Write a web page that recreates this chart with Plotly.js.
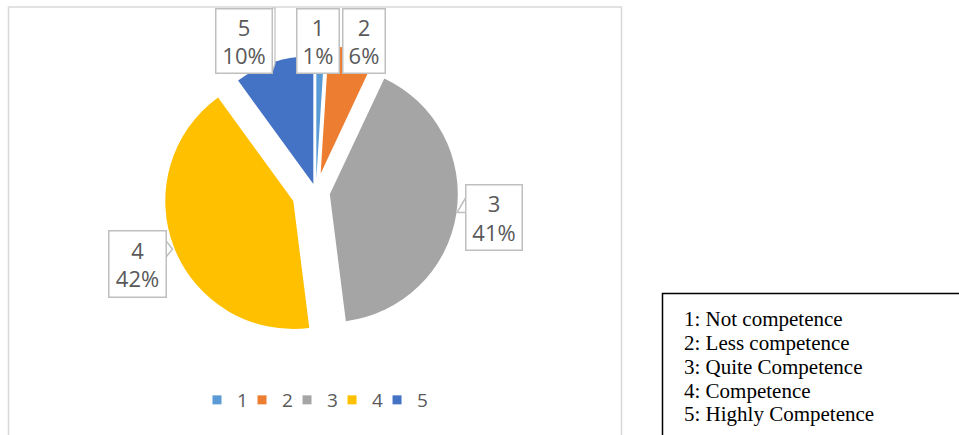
<!DOCTYPE html>
<html><head><meta charset="utf-8">
<script src="https://cdn.plot.ly/plotly-3.0.1.min.js"></script>
<style>html,body{margin:0;padding:0;background:#fff;} #chart{width:959px;height:435px;}</style>
</head><body><div id="chart"></div>
<script>
// ---- data ----
const categories = ['1', '2', '3', '4', '5'];
const percents = [1, 6, 41, 42, 10];
const descriptions = ['1: Not competence', '2: Less competence', '3: Quite Competence', '4: Competence', '5: Highly Competence'];

// ---- styles ----
const colors = ['#5B9BD5', '#ED7D31', '#A5A5A5', '#FFC000', '#4472C4'];
const pulls = [0.10, 0.15, 0.11, 0.19, 0.065];

const W = 959, H = 435;
const fx = x => x / W, fy = y => 1 - y / H;

// pie geometry (pixels)
const pcx = 315.9, pcy = 192, pr = 128;
const maxPull = Math.max(...pulls);
const box = 2 * pr * (1 + maxPull);
const domX = [fx(pcx - box / 2), fx(pcx + box / 2)];
const domY = [fy(pcy + box / 2), fy(pcy - box / 2)];

// callout boxes (pixel centres / sizes), one per category
const labelBoxes = [
  {x: 317.5, y: 41, w: 44, h: 66},
  {x: 364, y: 41, w: 44, h: 66},
  {x: 494, y: 217.5, w: 58, h: 67},
  {x: 137, y: 264, w: 59, h: 68},
  {x: 244, y: 41, w: 58, h: 66}
];

const traces = [{
  type: 'pie',
  labels: categories,
  values: percents,
  sort: false,
  direction: 'clockwise',
  rotation: 0,
  pull: pulls,
  marker: {colors: colors, line: {width: 0}},
  textinfo: 'none',
  hoverinfo: 'label+percent',
  showlegend: false,
  domain: {x: domX, y: domY}
}];
categories.forEach((c, i) => traces.push({
  type: 'scatter', x: [null], y: [null], mode: 'markers', name: c,
  marker: {symbol: 'square', size: 9, color: colors[i]},
  legendwidth: i === categories.length - 1 ? 14 : 0.01,
  showlegend: true, hoverinfo: 'skip'
}));

const annotations = categories.map((c, i) => ({
  xref: 'paper', yref: 'paper',
  x: fx(labelBoxes[i].x), y: fy(labelBoxes[i].y),
  xanchor: 'center', yanchor: 'middle',
  text: c + '<br>' + percents[i] + '%',
  showarrow: false,
  font: {family: 'Open Sans', size: 22, color: '#595959'},
  bgcolor: '#FFFFFF', bordercolor: '#BFBFBF', borderwidth: 1.5, borderpad: 1,
  width: labelBoxes[i].w - 5, height: labelBoxes[i].h - 5
}));
descriptions.forEach((d, i) => annotations.push({
  xref: 'paper', yref: 'paper',
  x: fx(682), y: fy(319.2 + 23.8 * i),
  xanchor: 'left', yanchor: 'middle',
  text: d, showarrow: false,
  font: {family: 'Liberation Serif', size: 21, color: '#000000'}
}));

function pathPx(pts) {
  return 'M' + pts.map(p => fx(p[0]) + ',' + fy(p[1])).join('L');
}

const shapes = [
  {type: 'rect', xref: 'paper', yref: 'paper', x0: fx(8.5), x1: fx(621.5), y0: fy(445), y1: fy(7),
   line: {color: '#D9D9D9', width: 1.5}, fillcolor: 'rgba(0,0,0,0)', layer: 'below'},
  {type: 'rect', xref: 'paper', yref: 'paper', x0: fx(662.5), x1: fx(975), y0: fy(450), y1: fy(293.5),
   line: {color: '#000000', width: 1.5}, fillcolor: 'rgba(0,0,0,0)', layer: 'below'},
  {type: 'path', xref: 'paper', yref: 'paper', path: pathPx([[465.5, 198], [457, 212.5], [465.5, 212.5]]),
   line: {color: '#BFBFBF', width: 1.5}, fillcolor: '#FFFFFF', layer: 'above'},
  {type: 'path', xref: 'paper', yref: 'paper', path: pathPx([[166.5, 241.5], [172.5, 249], [166.5, 256.5]]),
   line: {color: '#BFBFBF', width: 1.5}, fillcolor: '#FFFFFF', layer: 'above'},
  {type: 'path', xref: 'paper', yref: 'paper', path: pathPx([[272.5, 8], [275, 8], [275, 64], [272.5, 71]]),
   line: {color: '#BFBFBF', width: 1.2}, fillcolor: '#FFFFFF', layer: 'above'}
];

const layout = {
  width: W, height: H,
  margin: {l: 0, r: 0, t: 0, b: 0},
  paper_bgcolor: '#FFFFFF', plot_bgcolor: 'rgba(0,0,0,0)',
  xaxis: {visible: false}, yaxis: {visible: false},
  showlegend: true,
  legend: {orientation: 'h', x: fx(197), xanchor: 'left', y: fy(400), yanchor: 'middle',
           entrywidthmode: 'pixels',
           font: {family: 'Open Sans', size: 19, color: '#595959'}, bgcolor: 'rgba(0,0,0,0)',
           itemclick: false, itemdoubleclick: false},
  annotations: annotations,
  shapes: shapes
};

Plotly.newPlot('chart', traces, layout, {staticPlot: true, displayModeBar: false});
</script>
</body></html>
